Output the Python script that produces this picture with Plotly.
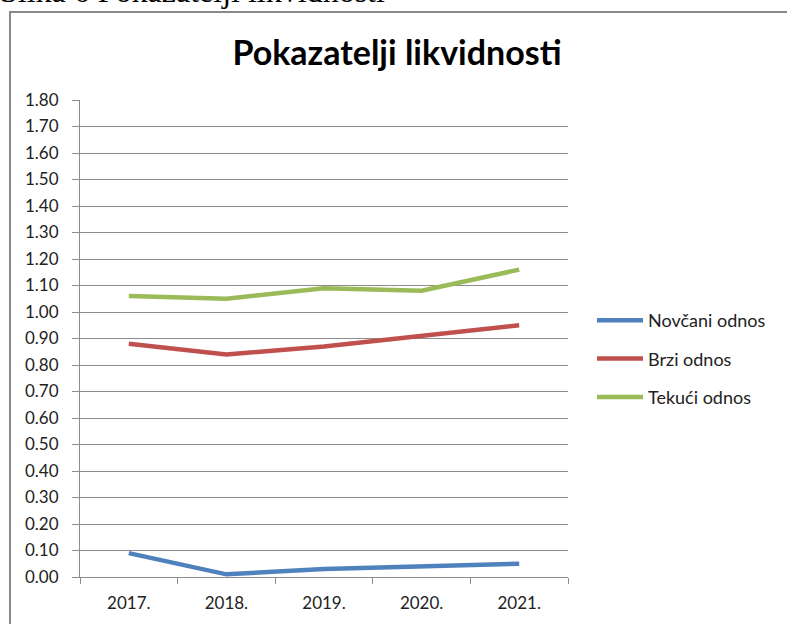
import plotly.graph_objects as go

years = ["2017.", "2018.", "2019.", "2020.", "2021."]
novcani = [0.09, 0.01, 0.03, 0.04, 0.05]
brzi = [0.88, 0.84, 0.87, 0.91, 0.95]
tekuci = [1.06, 1.05, 1.09, 1.08, 1.16]
series_names = ["Novčani odnos", "Brzi odnos", "Tekući odnos"]
colors = ["#4F81BD", "#C0504D", "#9BBB59"]
y_ticks = [round(i * 0.1, 1) for i in range(19)]

W, H = 787, 624
L, R, T, B = 80, 219, 100, 47
pw, ph = W - L - R, H - T - B

def px(x):
    return (x - L) / pw

def py(y):
    return (H - B - y) / ph

fig = go.Figure()
for name, vals, col in zip(series_names, [novcani, brzi, tekuci], colors):
    fig.add_trace(go.Scatter(x=years, y=vals, name=name, mode="lines",
                             line=dict(color=col, width=4.5), legendgroup=name))

grid = "#8C8C8C"
fig.update_layout(
    width=W, height=H,
    margin=dict(l=L, r=R, t=T, b=B),
    paper_bgcolor="white", plot_bgcolor="white",
    font=dict(family="Lato, Open Sans, sans-serif", color="#222222", size=17),
    title=dict(text="<b>Pokazatelji likvidnosti</b>", x=397 / W, xanchor="center",
               y=1 - 53 / H, yanchor="middle",
               font=dict(family="Lato, Open Sans, sans-serif", size=34, color="black")),
    xaxis=dict(type="category", range=[-0.5, 4.5], showgrid=False, showline=True,
               linecolor=grid, linewidth=1,
               ticks="outside", tickson="boundaries", ticklen=6, tickcolor=grid,
               tickfont=dict(size=17), ticklabelstandoff=11),
    yaxis=dict(range=[0, 1.8], tickvals=y_ticks, tickformat=".2f", showgrid=True,
               gridcolor=grid, gridwidth=1, showline=True, linecolor=grid, linewidth=1,
               ticks="outside", ticklen=7, tickcolor=grid, zeroline=False,
               tickfont=dict(size=17), ticklabelstandoff=10),
    legend=dict(x=px(592), y=py(302), xanchor="left", yanchor="top",
                traceorder="grouped", tracegroupgap=12, itemwidth=46,
                font=dict(size=18), bgcolor="rgba(0,0,0,0)"),
    shapes=[dict(type="rect", xref="paper", yref="paper",
                 x0=px(10), x1=px(800), y0=py(640), y1=py(12),
                 line=dict(color="#898989", width=2), fillcolor="rgba(0,0,0,0)",
                 layer="below")],
    annotations=[dict(text="Slika 6 Pokazatelji likvidnosti", xref="paper", yref="paper",
                      x=px(-2), y=py(-9), xanchor="left", yanchor="middle", showarrow=False,
                      font=dict(family="Liberation Serif, Times New Roman, serif", size=32,
                                color="black"))],
)
fig.write_html("out.html", config={"displayModeBar": False},
               post_script="document.body.style.margin='0';")
